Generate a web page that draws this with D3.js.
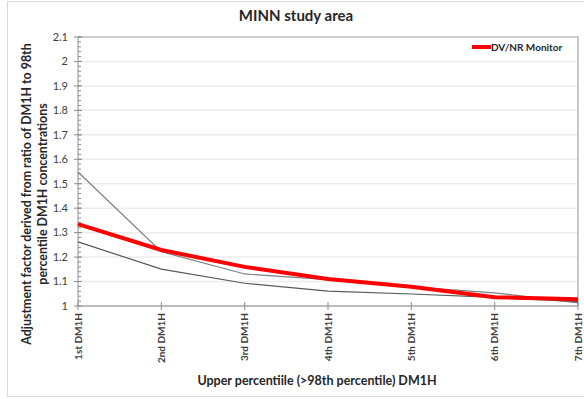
<!DOCTYPE html>
<html>
<head>
<meta charset="utf-8">
<script src="https://cdn.jsdelivr.net/npm/d3@7"></script>
<style>
  body { margin: 0; background: #fff; }
  svg { display: block; font-family: Lato, "Open Sans", sans-serif; }
</style>
</head>
<body>
<svg id="chart" width="584" height="399"></svg>
<script>
// Categories along the x axis
const categories = ["1st DM1H", "2nd DM1H", "3rd DM1H", "4th DM1H", "5th DM1H", "6th DM1H", "7th DM1H"];

// Adjustment factor series
const dvNrMonitor = [1.335, 1.229, 1.160, 1.110, 1.079, 1.036, 1.028];
const upperSite   = [1.548, 1.222, 1.131, 1.108, 1.078, 1.054, 1.013];
const lowerSite   = [1.262, 1.151, 1.093, 1.061, 1.049, 1.035, 1.018];

// Y axis ticks
const yTicks = [1, 1.1, 1.2, 1.3, 1.4, 1.5, 1.6, 1.7, 1.8, 1.9, 2, 2.1];
const yMinorTicks = d3.range(1, 2.1001, 0.02);

const svg = d3.select("#chart");
const margin = { left: 78, right: 6, top: 37, bottom: 93 };
const W = 584, H = 399;
const x0 = margin.left, x1 = W - margin.right;
const y0 = H - margin.bottom, y1 = margin.top;

// outer chart frame
svg.append("rect")
  .attr("x", 7.5).attr("y", 1.5)
  .attr("width", 600).attr("height", 395)
  .attr("fill", "none").attr("stroke", "#d9d9d9");

const x = d3.scalePoint().domain(categories).range([x0, x1]);
const y = d3.scaleLinear().domain([1, 2.1]).range([y0, y1]);

// horizontal gridlines
svg.append("g").selectAll("line")
  .data(yTicks.slice(1))
  .join("line")
  .attr("x1", x0).attr("x2", x1)
  .attr("y1", d => y(d)).attr("y2", d => y(d))
  .attr("stroke", "#ececec").attr("stroke-width", 1.5);

// plot frame: top and right edges
svg.append("path")
  .attr("d", `M${x0},${y1}H${x1}V${y0}`)
  .attr("fill", "none").attr("stroke", "#a6a6a6").attr("stroke-width", 1.2);

// y axis
const yAxis = svg.append("g").attr("transform", `translate(${x0},0)`);
yAxis.append("line").attr("y1", y0).attr("y2", y1).attr("stroke", "#8c8c8c");
yAxis.selectAll(".minor").data(yMinorTicks).join("line")
  .attr("x1", 0).attr("x2", 3)
  .attr("y1", d => y(d)).attr("y2", d => y(d))
  .attr("stroke", "#8c8c8c");
yAxis.selectAll(".major").data(yTicks).join("line")
  .attr("x1", -4).attr("x2", 4)
  .attr("y1", d => y(d)).attr("y2", d => y(d))
  .attr("stroke", "#8c8c8c");
yAxis.selectAll("text").data(yTicks).join("text")
  .attr("x", -10).attr("y", d => y(d)).attr("dy", "0.35em")
  .attr("text-anchor", "end")
  .attr("font-size", 11).attr("fill", "#404040")
  .text(d => d3.format("")(+d.toFixed(1)));

// x axis
const xAxis = svg.append("g");
xAxis.append("line").attr("x1", x0).attr("x2", x1).attr("y1", y0).attr("y2", y0)
  .attr("stroke", "#a6a6a6").attr("stroke-width", 1.5);
xAxis.selectAll(".tick").data(categories).join("line")
  .attr("x1", d => x(d)).attr("x2", d => x(d))
  .attr("y1", y0 - 4).attr("y2", y0 + 4)
  .attr("stroke", "#8c8c8c");
xAxis.selectAll("text").data(categories).join("text")
  .attr("transform", d => `translate(${x(d)},${y0 + 7}) rotate(-90)`)
  .attr("dy", "0.35em")
  .attr("text-anchor", "end")
  .attr("font-size", 10).attr("font-weight", "bold").attr("fill", "#404040")
  .text(d => d);

// series lines
const line = d3.line()
  .x((d, i) => x(categories[i]))
  .y(d => y(d));

svg.append("path").datum(upperSite).attr("d", line)
  .attr("fill", "none").attr("stroke", "#7f7f7f").attr("stroke-width", 1.2);
svg.append("path").datum(lowerSite).attr("d", line)
  .attr("fill", "none").attr("stroke", "#595959").attr("stroke-width", 1.2);
svg.append("path").datum(dvNrMonitor).attr("d", line)
  .attr("fill", "none").attr("stroke", "#ff0000").attr("stroke-width", 4)
  .attr("stroke-linejoin", "round");

// legend
svg.append("line").attr("x1", 472).attr("x2", 491).attr("y1", 47).attr("y2", 47)
  .attr("stroke", "#ff0000").attr("stroke-width", 4);
svg.append("text").attr("x", 491).attr("y", 47).attr("dy", "0.35em")
  .attr("font-size", 10).attr("font-weight", "bold").attr("fill", "#262626")
  .text("DV/NR Monitor");

// title
svg.append("text").attr("x", 296).attr("y", 21)
  .attr("text-anchor", "middle")
  .attr("font-size", 15).attr("font-weight", "bold").attr("fill", "#262626")
  .text("MINN study area");

// x axis title
svg.append("text").attr("x", 317).attr("y", 385)
  .attr("text-anchor", "middle")
  .attr("font-size", 12.5).attr("font-weight", "bold").attr("fill", "#262626")
  .text("Upper percentiile (>98th percentile) DM1H");

// y axis title (two lines)
const yTitle = svg.append("text")
  .attr("transform", "translate(31,194) rotate(-90)")
  .attr("text-anchor", "middle")
  .attr("font-size", 12.4).attr("font-weight", "bold").attr("fill", "#262626");
yTitle.append("tspan").attr("x", 0).attr("dy", 0)
  .text("Adjustment factor derived from ratio of DM1H to 98th");
yTitle.append("tspan").attr("x", 0).attr("dy", 15.5)
  .text("percentile DM1H concentrations");
</script>
</body>
</html>
